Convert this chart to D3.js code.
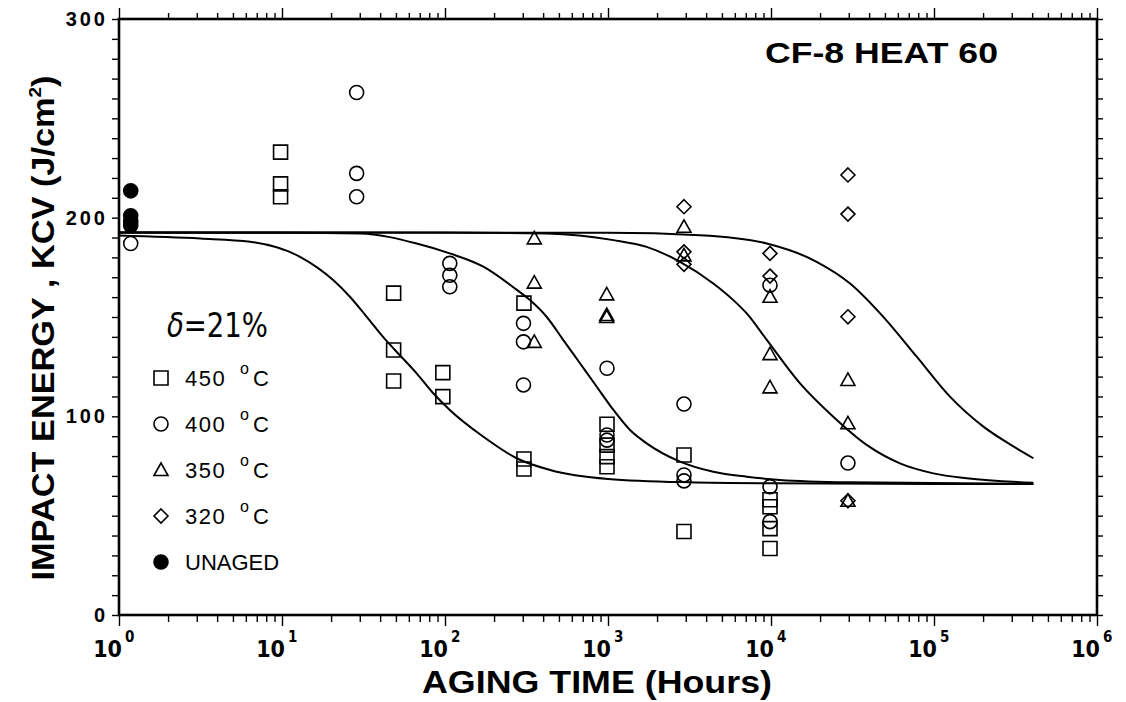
<!DOCTYPE html>
<html><head><meta charset="utf-8">
<script src="https://cdn.jsdelivr.net/npm/d3@7"></script>
<style>
html,body{margin:0;padding:0;background:#fff;}
svg{display:block;}
</style></head><body>
<svg id="chart" width="1126" height="702"></svg>
<script>
// ---------- data ----------
const majorTickExponents = [0, 1, 2, 3, 4, 5, 6];
const yTickLabels = [0, 100, 200, 300];

const legendLabels = ["450", "400", "350", "320", "UNAGED"];

// measured points
const unagedHours = [1.18, 1.18, 1.18, 1.18];
const unagedKCV   = [213.5, 201, 198, 196];

const t450Hours = [9.8, 9.8, 9.8, 48.4, 48.4, 48.4, 97, 97, 305, 305, 305, 986, 986, 986, 986, 2925, 2925, 9860, 9860, 9860, 9860];
const t450KCV   = [233, 217, 210.5, 162, 133.4, 117.8, 122, 109.9, 157, 78.5, 73.5, 96, 85.5, 79.7, 74.6, 80.5, 42, 58, 54.5, 43.5, 33.5];

const t400Hours = [1.18, 28.7, 28.7, 28.7, 107, 107, 107, 303, 303, 303, 986, 986, 986, 2925, 2925, 2925, 9860, 9860, 9860, 29650];
const t400KCV   = [187, 263, 222.3, 210.5, 177, 171, 165.2, 146.8, 137.5, 115.8, 124.2, 90.6, 88, 106.2, 70.5, 67.5, 166, 64.6, 47, 76.5];

const t350Hours = [353, 353, 353, 982, 982, 982, 2925, 2925, 9860, 9860, 9860, 29650, 29650, 29650];
const t350KCV   = [189.6, 167.3, 137.5, 161.4, 151, 150, 195.4, 181, 160.2, 131.3, 114.6, 118.3, 96.5, 57.5];

const t320Hours = [2925, 2925, 2925, 9860, 9860, 29650, 29650, 29650, 29650];
const t320KCV   = [205.5, 182.8, 176.5, 182, 170.6, 221.5, 201.8, 150.1, 57.5];

// fitted curves
const curve450Hours = [1, 3.16, 6.37, 12.9, 20.6, 26.1, 33.1, 41.7, 49.3, 67, 84.7, 107, 172, 275, 441, 1000, 3160, 10000, 100000, 407000];
const curve450KCV   = [191, 189.5, 187.9, 180.3, 168.6, 160.2, 150.1, 140, 133.4, 121.6, 111.6, 103.2, 89.7, 78.9, 73, 68.5, 66.8, 66.3, 66, 66];

const curve400Hours = [1, 10, 30.1, 67, 107, 172, 262, 332, 421, 532, 673, 853, 1080, 1365, 1726, 2767, 4426, 7096, 11350, 30200, 407000];
const curve400KCV   = [192.5, 192.4, 192, 187, 182, 175.3, 165, 158.5, 150, 138.4, 126.7, 114.9, 103.2, 93.1, 86.4, 77.2, 72.1, 69.6, 68, 66.8, 66];

const curve350Hours = [1, 100, 421, 1080, 1726, 2767, 4426, 5875, 7096, 9419, 15070, 24100, 38640, 61800, 99100, 158500, 407000];
const curve350KCV   = [192.5, 192.5, 192, 188.7, 185.3, 177.8, 166.9, 158.5, 151.8, 138.5, 116.6, 99.8, 85.6, 76.3, 71.3, 68.8, 66.6];

const curve320Hours = [1, 1000, 3664, 9419, 19050, 30550, 48870, 78340, 125300, 200900, 321400, 407000];
const curve320KCV   = [192.5, 192.4, 191.2, 187, 177.8, 166.9, 150.1, 130, 109.9, 94.8, 83.9, 78.9];

// ---------- drawing ----------
const svg = d3.select("#chart");
const L = 119, R = 1097, T = 19, B = 615;
const x = d3.scaleLog().domain([1, 1e6]).range([L, R]);
const y = d3.scaleLinear().domain([0, 300]).range([B, T]);

const minorX = [];
for (let d = 0; d < 6; d++) for (let k = 2; k <= 9; k++) minorX.push(k * Math.pow(10, d));
const majorX = majorTickExponents.map(e => Math.pow(10, e));
const yTicks = d3.range(0, 301, 10);

function styleAxis(g) {
  g.select(".domain").remove();
  g.selectAll("line").attr("stroke", "#000").attr("stroke-width", 1.4);
  g.selectAll("text").remove();
}
svg.append("g").attr("transform", `translate(0,${B})`)
  .call(d3.axisBottom(x).tickValues(minorX).tickSize(7).tickFormat("")).call(styleAxis);
svg.append("g").attr("transform", `translate(0,${B})`)
  .call(d3.axisBottom(x).tickValues(majorX).tickSize(11).tickFormat("")).call(styleAxis);
svg.append("g").attr("transform", `translate(0,${T})`)
  .call(d3.axisTop(x).tickValues(minorX).tickSize(6).tickFormat("")).call(styleAxis);
svg.append("g").attr("transform", `translate(0,${T})`)
  .call(d3.axisTop(x).tickValues(majorX).tickSize(11).tickFormat("")).call(styleAxis);
svg.append("g").attr("transform", `translate(${L},0)`)
  .call(d3.axisLeft(y).tickValues(yTicks).tickSize(7).tickFormat("")).call(styleAxis);
svg.append("g").attr("transform", `translate(${R},0)`)
  .call(d3.axisRight(y).tickValues(yTicks).tickSize(6).tickFormat("")).call(styleAxis);

// frame
svg.append("rect").attr("x", L).attr("y", T).attr("width", R - L).attr("height", B - T)
  .attr("fill", "none").attr("stroke", "#000").attr("stroke-width", 2.6);

// y tick labels
svg.append("g").selectAll("text").data(yTickLabels).join("text")
  .attr("x", 108).attr("y", d => y(d) + 7)
  .attr("text-anchor", "end")
  .attr("font-family", "'Liberation Sans', Arial, sans-serif")
  .attr("font-weight", "bold").attr("font-size", 20).attr("letter-spacing", 3)
  .text(d => d);

// x tick labels: "10" and its exponent, side by side
const narrow = "'Liberation Sans Narrow', 'Arial Narrow', 'DejaVu Sans Condensed', sans-serif";
svg.append("g").selectAll("text").data(majorTickExponents).join("text")
  .attr("x", d => x(Math.pow(10, d)) + 3).attr("y", 657)
  .attr("text-anchor", "end")
  .attr("font-family", narrow).attr("font-weight", "bold").attr("font-size", 23)
  .text("10");
svg.append("g").selectAll("text").data(majorTickExponents).join("text")
  .attr("x", d => x(Math.pow(10, d)) + 6).attr("y", 642)
  .attr("font-family", narrow).attr("font-weight", "bold").attr("font-size", 15)
  .text(d => d);

// axis titles
svg.append("text").attr("x", 597).attr("y", 693).attr("text-anchor", "middle")
  .attr("font-family", "'Liberation Sans', Arial, sans-serif").attr("font-weight", "bold")
  .attr("font-size", 31).attr("textLength", 350).attr("lengthAdjust", "spacingAndGlyphs")
  .text("AGING TIME (Hours)");

const yt = svg.append("text").attr("transform", "translate(54,328) rotate(-90)")
  .attr("text-anchor", "middle")
  .attr("font-family", "'Liberation Sans', Arial, sans-serif").attr("font-weight", "bold")
  .attr("font-size", 31).attr("textLength", 505).attr("lengthAdjust", "spacingAndGlyphs");
yt.append("tspan").text("IMPACT ENERGY , KCV (J/cm");
yt.append("tspan").attr("font-size", 17).attr("dy", -13).text("2");
yt.append("tspan").attr("dy", 13).text(")");

// title
svg.append("text").attr("x", 765).attr("y", 63)
  .attr("font-family", "'Liberation Sans', Arial, sans-serif").attr("font-weight", "bold")
  .attr("font-size", 30).attr("textLength", 233).attr("lengthAdjust", "spacingAndGlyphs")
  .text("CF-8 HEAT 60");

// curves
const line = d3.line().x(d => x(d[0])).y(d => y(d[1])).curve(d3.curveMonotoneX);
const curves = [
  [curve450Hours, curve450KCV],
  [curve400Hours, curve400KCV],
  [curve350Hours, curve350KCV],
  [curve320Hours, curve320KCV]
];
svg.append("g").selectAll("path").data(curves).join("path")
  .attr("d", c => line(c[0].map((h, i) => [h, c[1][i]])))
  .attr("fill", "none").attr("stroke", "#000").attr("stroke-width", 2);

// markers
const shapes = {
  square: "M-7,-7H7V7H-7Z",
  circle: "M-7,0A7,7 0 1,0 7,0A7,7 0 1,0 -7,0Z",
  triangle: "M0,-7L7,5.5L-7,5.5Z",
  diamond: "M0,-7L7,0L0,7L-7,0Z"
};
function drawSeries(hours, vals, shape, filled) {
  svg.append("g").selectAll("path").data(hours.map((h, i) => [h, vals[i]])).join("path")
    .attr("transform", d => `translate(${x(d[0])},${y(d[1])})`)
    .attr("d", shapes[shape])
    .attr("fill", filled ? "#000" : "#fff").attr("fill-opacity", filled ? 1 : 0)
    .attr("stroke", "#000").attr("stroke-width", 1.6);
}
drawSeries(t450Hours, t450KCV, "square", false);
drawSeries(t400Hours, t400KCV, "circle", false);
drawSeries(t350Hours, t350KCV, "triangle", false);
drawSeries(t320Hours, t320KCV, "diamond", false);
drawSeries(unagedHours, unagedKCV, "circle", true);

// legend
const dl = svg.append("text").attr("x", 167).attr("y", 337)
  .attr("font-family", narrow).attr("font-size", 34)
  .attr("textLength", 101).attr("lengthAdjust", "spacingAndGlyphs");
dl.append("tspan").attr("font-style", "italic").text("δ");
dl.append("tspan").text("=21%");

const legShapes = ["square", "circle", "triangle", "diamond", "circle"];
const legBase = [386, 432, 478, 524, 570];
legendLabels.forEach((lab, i) => {
  svg.append("path").attr("transform", `translate(161,${legBase[i] - 8})`)
    .attr("d", shapes[legShapes[i]])
    .attr("fill", i === 4 ? "#000" : "none").attr("stroke", "#000").attr("stroke-width", 1.6);
  const t = svg.append("text").attr("y", legBase[i])
    .attr("font-family", "'Liberation Sans', Arial, sans-serif").attr("font-size", 22);
  if (i < 4) {
    t.append("tspan").attr("x", 185).attr("letter-spacing", 1.5).text(lab);
    t.append("tspan").attr("x", 240).attr("dy", -12).attr("font-size", 16).text("o");
    t.append("tspan").attr("x", 253).attr("dy", 12).text("C");
  } else {
    t.append("tspan").attr("x", 185).text(lab);
  }
});
</script></body></html>
